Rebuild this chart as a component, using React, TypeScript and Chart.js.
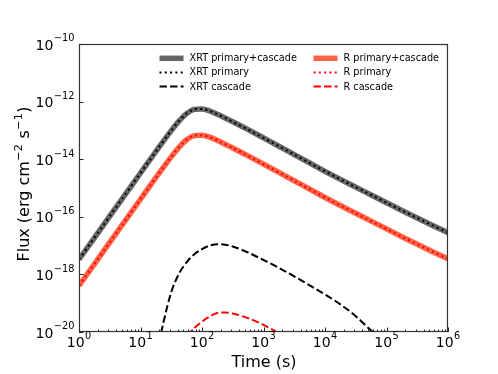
import { useEffect, useRef } from "react";
import { Chart, registerables } from "chart.js";

Chart.register(...registerables);

// ---- Data (time in s, flux in erg cm^-2 s^-1) ----
const mainTimes = [1, 1.778, 3.162, 5.623, 10, 17.78, 31.62, 42.17, 56.23, 74.99, 100, 133.4, 177.8, 316.2, 562.3, 1000, 1778, 3162, 5623, 1e4, 17783, 31623, 56234, 1e5, 177828, 316228, 562341, 1e6];
const xrtTotal = [3.31e-18, 1.86e-17, 1.05e-16, 5.89e-16, 3.31e-15, 1.85e-14, 9.86e-14, 2.1e-13, 3.84e-13, 5.36e-13, 5.56e-13, 4.72e-13, 3.65e-13, 1.99e-13, 1.06e-13, 5.5e-14, 2.82e-14, 1.45e-14, 7.41e-15, 3.8e-15, 2.0e-15, 1.07e-15, 5.75e-16, 3.09e-16, 1.66e-16, 9.12e-17, 5.01e-17, 2.82e-17];
const xrtPrimary = [3.31e-18, 1.86e-17, 1.05e-16, 5.89e-16, 3.31e-15, 1.85e-14, 9.86e-14, 2.1e-13, 3.84e-13, 5.36e-13, 5.56e-13, 4.72e-13, 3.65e-13, 1.99e-13, 1.06e-13, 5.5e-14, 2.82e-14, 1.45e-14, 7.41e-15, 3.8e-15, 2.0e-15, 1.07e-15, 5.75e-16, 3.09e-16, 1.66e-16, 9.12e-17, 5.01e-17, 2.82e-17];
const rTotal = [4.07e-19, 2.29e-18, 1.29e-17, 7.24e-17, 4.07e-16, 2.28e-15, 1.21e-14, 2.58e-14, 4.72e-14, 6.59e-14, 6.84e-14, 5.81e-14, 4.49e-14, 2.45e-14, 1.3e-14, 6.77e-15, 3.47e-15, 1.78e-15, 9.11e-16, 4.67e-16, 2.46e-16, 1.32e-16, 7.07e-17, 3.8e-17, 2.04e-17, 1.12e-17, 6.16e-18, 3.47e-18];
const rPrimary = [4.07e-19, 2.29e-18, 1.29e-17, 7.24e-17, 4.07e-16, 2.28e-15, 1.21e-14, 2.58e-14, 4.72e-14, 6.59e-14, 6.84e-14, 5.81e-14, 4.49e-14, 2.45e-14, 1.3e-14, 6.77e-15, 3.47e-15, 1.78e-15, 9.11e-16, 4.67e-16, 2.46e-16, 1.32e-16, 7.07e-17, 3.8e-17, 2.04e-17, 1.12e-17, 6.16e-18, 3.47e-18];

const xrtCascadeTimes = [19.95, 23.71, 31.62, 42.17, 56.23, 74.99, 100, 133.4, 177.8, 237.1, 316.2, 562.3, 1000, 1778, 3162, 5623, 1e4, 17783, 31623, 56234, 1e5];
const xrtCascade = [3.98e-21, 2.24e-20, 2.4e-19, 1.05e-18, 2.63e-18, 5.01e-18, 7.59e-18, 1.0e-17, 1.12e-17, 1.07e-17, 9.33e-18, 5.75e-18, 3.16e-18, 1.7e-18, 8.51e-19, 4.17e-19, 2.0e-19, 9.12e-20, 3.55e-20, 1.12e-20, 4.0e-21];

const rCascadeTimes = [56.23, 74.99, 100, 133.4, 177.8, 237.1, 316.2, 562.3, 1000, 1778];
const rCascade = [7.59e-21, 1.38e-20, 2.29e-20, 3.47e-20, 4.57e-20, 4.79e-20, 4.37e-20, 3.02e-20, 1.78e-20, 8.91e-21];

const xTickExponents = [0, 1, 2, 3, 4, 5, 6];
const yTickExponents = [-10, -12, -14, -16, -18, -20];

const seriesLabels = ["XRT primary+cascade", "XRT primary", "XRT cascade", "R primary+cascade", "R primary", "R cascade"];

const FONT = '"DejaVu Sans", "Liberation Sans", sans-serif';

function pairs(ts: number[], vs: number[]) {
  return ts.map((t, i) => ({ x: t, y: vs[i] }));
}

function supText(n: number) {
  return n < 0 ? "\u2212" + String(-n) : String(n);
}

function drawPow(ctx: CanvasRenderingContext2D, anchor: number, baseline: number, exp: number, align: "right" | "center") {
  const main = "10";
  const sup = supText(exp);
  ctx.font = `14px ${FONT}`;
  const wm = ctx.measureText(main).width;
  ctx.font = `9.8px ${FONT}`;
  const ws = ctx.measureText(sup).width;
  const total = wm + ws + 0.5;
  const x0 = align === "right" ? anchor - total : anchor - total / 2;
  ctx.textAlign = "left";
  ctx.textBaseline = "alphabetic";
  ctx.font = `14px ${FONT}`;
  ctx.fillText(main, x0, baseline);
  ctx.font = `9.8px ${FONT}`;
  ctx.fillText(sup, x0 + wm + 0.5, baseline - 8.2);
}

const decorPlugin = {
  id: "decor",
  afterDatasetsDraw(chart: any) {
    const ctx: CanvasRenderingContext2D = chart.ctx;
    const a = chart.chartArea;
    const xs = chart.scales.x;
    const ys = chart.scales.y;
    ctx.save();
    ctx.fillStyle = "#000";
    ctx.strokeStyle = "#222";
    ctx.lineWidth = 1;

    // ticks (inward)
    ctx.beginPath();
    for (const e of xTickExponents) {
      const px = Math.round(xs.getPixelForValue(Math.pow(10, e))) + 0.5;
      ctx.moveTo(px, a.bottom);
      ctx.lineTo(px, a.bottom - 4.5);
    }
    for (let e = 0; e < 6; e++) {
      for (let k = 2; k <= 9; k++) {
        const px = Math.round(xs.getPixelForValue(k * Math.pow(10, e))) + 0.5;
        ctx.moveTo(px, a.bottom);
        ctx.lineTo(px, a.bottom - 2.5);
      }
    }
    for (const e of yTickExponents) {
      const py = Math.round(ys.getPixelForValue(Math.pow(10, e))) + 0.5;
      ctx.moveTo(a.left, py);
      ctx.lineTo(a.left + 4.5, py);
    }
    ctx.stroke();

    // frame
    ctx.strokeStyle = "#333";
    ctx.lineWidth = 1.2;
    ctx.strokeRect(a.left + 0.5, a.top + 0.5, a.right - a.left - 1, a.bottom - a.top - 1);

    // tick labels
    for (const e of xTickExponents) {
      const px = xs.getPixelForValue(Math.pow(10, e));
      drawPow(ctx, px, a.bottom + 15.3, e, "center");
    }
    for (const e of yTickExponents) {
      const py = ys.getPixelForValue(Math.pow(10, e));
      drawPow(ctx, a.left - 4.5, py + 5.6, e, "right");
    }

    // x title
    ctx.font = `16px ${FONT}`;
    ctx.textAlign = "center";
    ctx.textBaseline = "alphabetic";
    ctx.fillText("Time (s)", (a.left + a.right) / 2 + 0.5, 367);

    // y title with superscripts
    const parts: [string, boolean][] = [
      ["Flux (erg cm", false],
      ["\u22122", true],
      [" s", false],
      ["\u22121", true],
      [")", false],
    ];
    let total = 0;
    const widths: number[] = [];
    for (const [t, s] of parts) {
      ctx.font = s ? `11.2px ${FONT}` : `16px ${FONT}`;
      const w = ctx.measureText(t).width + (s ? 1 : 0);
      widths.push(w);
      total += w;
    }
    ctx.save();
    ctx.translate(29, (a.top + a.bottom) / 2 - 4);
    ctx.rotate(-Math.PI / 2);
    ctx.textAlign = "left";
    let cx = -total / 2;
    parts.forEach(([t, s], i) => {
      ctx.font = s ? `11.2px ${FONT}` : `16px ${FONT}`;
      ctx.fillText(t, cx + (s ? 0.5 : 0), s ? -7.5 : 0);
      cx += widths[i];
    });
    ctx.restore();

    // legend
    const ds = chart.data.datasets;
    const cols = [
      { hx0: 159.5, hx1: 183.5, tx: 189.5 },
      { hx0: 313.5, hx1: 337.5, tx: 343.5 },
    ];
    const rows = [58.3, 72.4, 86.6];
    ds.forEach((d: any, i: number) => {
      const c = cols[Math.floor(i / 3)];
      const y = rows[i % 3];
      ctx.save();
      ctx.strokeStyle = d.borderColor;
      ctx.lineWidth = d.borderWidth === 5 ? 4.8 : d.borderWidth;
      ctx.setLineDash(d.borderDash || []);
      ctx.beginPath();
      ctx.moveTo(c.hx0, y);
      ctx.lineTo(c.hx1, y);
      ctx.stroke();
      ctx.restore();
      ctx.font = `9.7px ${FONT}`;
      ctx.fillStyle = "#000";
      ctx.textAlign = "left";
      ctx.textBaseline = "middle";
      ctx.fillText(d.label, c.tx, y + 0.5);
    });

    ctx.restore();
  },
};

export default function App() {
  const ref = useRef<HTMLCanvasElement | null>(null);

  useEffect(() => {
    if (!ref.current) return;
    const dotted = [2, 3.3];
    const dashed = [7.4, 3.2];
    const common = {
      pointRadius: 0,
      fill: false,
      cubicInterpolationMode: "monotone" as const,
      borderCapStyle: "butt" as const,
    };
    const chart = new Chart(ref.current, {
      type: "line",
      data: {
        datasets: [
          { ...common, label: seriesLabels[0], data: pairs(mainTimes, xrtTotal), borderColor: "#666666", borderWidth: 5.5, order: 6 },
          { ...common, label: seriesLabels[1], data: pairs(mainTimes, xrtPrimary), borderColor: "#000000", borderWidth: 2, borderDash: dotted, order: 5 },
          { ...common, label: seriesLabels[2], data: pairs(xrtCascadeTimes, xrtCascade), borderColor: "#000000", borderWidth: 2, borderDash: dashed, order: 4 },
          { ...common, label: seriesLabels[3], data: pairs(mainTimes, rTotal), borderColor: "#ff6347", borderWidth: 5.5, order: 3 },
          { ...common, label: seriesLabels[4], data: pairs(mainTimes, rPrimary), borderColor: "#ff0000", borderWidth: 2, borderDash: dotted, order: 2 },
          { ...common, label: seriesLabels[5], data: pairs(rCascadeTimes, rCascade), borderColor: "#ff0000", borderWidth: 2, borderDash: dashed, order: 1 },
        ],
      },
      options: {
        animation: false,
        responsive: false,
        events: [],
        layout: { padding: { left: 79, right: 50, top: 44, bottom: 42 } },
        plugins: { legend: { display: false }, tooltip: { enabled: false }, title: { display: false } },
        scales: {
          x: { type: "logarithmic", min: 1, max: 1e6, display: false },
          y: { type: "logarithmic", min: 1e-20, max: 1e-10, display: false },
        },
      },
      plugins: [decorPlugin],
    });
    return () => chart.destroy();
  }, []);

  return (
    <div style={{ position: "fixed", left: 0, top: 0, width: 498, height: 374, background: "#fff" }}>
      <canvas ref={ref} width={498} height={374} style={{ display: "block", width: 498, height: 374 }} />
    </div>
  );
}
